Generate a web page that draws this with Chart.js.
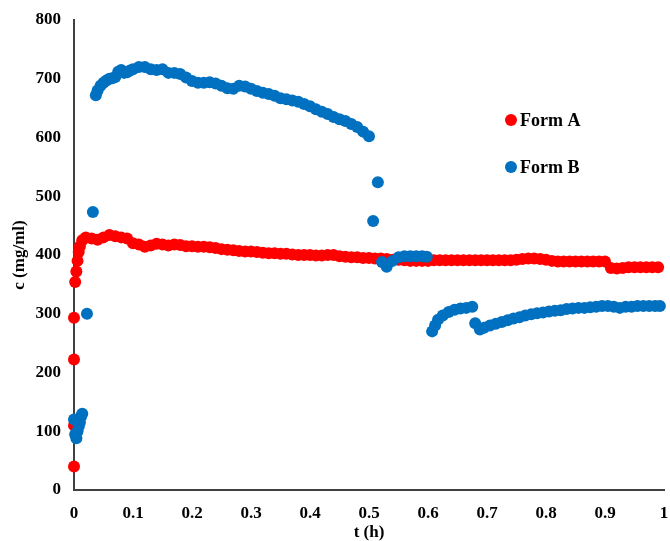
<!DOCTYPE html>
<html lang="en">
<head>
    <meta charset="UTF-8">
    <title>Form A / Form B concentration</title>
    <script src="https://cdn.jsdelivr.net/npm/chart.js"></script>
    <style>
        html, body { margin: 0; padding: 0; background: #fff; }
        #wrap { width: 670px; height: 541px; }
    </style>
</head>
<body>
    <div id="wrap"><canvas id="chart"></canvas></div>
    <script>
    // values
    const timeA = [0, 0, 0, 0, 0.002, 0.004, 0.006, 0.008, 0.01, 0.014, 0.02, 0.03, 0.04, 0.05, 0.06, 0.07, 0.08, 0.09,
        0.10, 0.11, 0.12, 0.13, 0.14, 0.15, 0.16, 0.17, 0.18, 0.19, 0.20, 0.21, 0.22, 0.23, 0.24, 0.25, 0.26, 0.27, 0.28, 0.29,
        0.30, 0.31, 0.32, 0.33, 0.34, 0.35, 0.36, 0.37, 0.38, 0.39, 0.40, 0.41, 0.42, 0.43, 0.44, 0.45, 0.46, 0.47, 0.48, 0.49,
        0.50, 0.51, 0.52, 0.53, 0.54, 0.55, 0.56, 0.57, 0.58, 0.59, 0.60, 0.61, 0.62, 0.63, 0.64, 0.65, 0.66, 0.67, 0.68, 0.69,
        0.70, 0.71, 0.72, 0.73, 0.74, 0.75, 0.76, 0.77, 0.78, 0.79, 0.80, 0.81, 0.82, 0.83, 0.84, 0.85, 0.86, 0.87, 0.88, 0.89,
        0.90, 0.91, 0.92, 0.93, 0.94, 0.95, 0.96, 0.97, 0.98, 0.99];
    const concA = [40, 110, 222, 293, 354, 372, 390, 405, 415, 425, 430, 428, 426, 430, 434, 432, 430, 428,
        420, 418, 414, 416, 419, 418, 416, 418, 417, 415, 415, 414, 414, 413, 412, 410, 409, 408, 407, 406,
        406, 405, 404, 403, 403, 402, 402, 401, 400, 400, 400, 399, 399, 400, 400, 398, 397, 396, 396, 395,
        395, 394, 394, 393, 392, 392, 391, 390, 390, 390, 390, 391, 391, 391, 391, 391, 391, 391, 391, 391,
        391, 391, 391, 391, 391, 392, 393, 394, 394, 393, 392, 390, 389, 389, 389, 389, 389, 389, 389, 389,
        389, 378, 377, 378, 379, 379, 379, 379, 379, 379];

    const timeB = [0, 0.002, 0.004, 0.006, 0.008, 0.01, 0.012, 0.014, 0.022, 0.032, 0.037, 0.04, 0.045, 0.05, 0.055,
        0.06, 0.065, 0.07, 0.075, 0.08, 0.085, 0.09, 0.095, 0.10, 0.11, 0.12, 0.13, 0.14, 0.15, 0.16, 0.17, 0.18, 0.19,
        0.20, 0.21, 0.22, 0.23, 0.24, 0.25, 0.26, 0.27, 0.28, 0.29, 0.30, 0.31, 0.32, 0.33, 0.34, 0.35, 0.36, 0.37, 0.38,
        0.39, 0.40, 0.41, 0.42, 0.43, 0.44, 0.45, 0.46, 0.47, 0.48, 0.49, 0.50, 0.507, 0.515, 0.522, 0.53, 0.54, 0.55,
        0.56, 0.57, 0.58, 0.59, 0.598, 0.607, 0.612, 0.617, 0.625, 0.635, 0.645, 0.655, 0.665, 0.675, 0.68, 0.688, 0.695,
        0.705, 0.715, 0.725, 0.735, 0.745, 0.755, 0.765, 0.775, 0.785, 0.795, 0.805, 0.815, 0.825, 0.835, 0.845, 0.855,
        0.865, 0.875, 0.885, 0.895, 0.905, 0.915, 0.925, 0.935, 0.945, 0.955, 0.965, 0.975, 0.985, 0.993];
    const concB = [120, 95, 88, 100, 108, 115, 125, 130, 300, 473, 672, 680, 688, 693, 697,
        700, 701, 703, 712, 715, 710, 711, 714, 716, 720, 720, 716, 715, 716, 710, 710, 708, 702,
        696, 693, 693, 694, 692, 688, 684, 683, 688, 687, 683, 679, 676, 674, 671, 667, 665, 663, 661,
        657, 653, 648, 644, 640, 635, 631, 628, 623, 618, 610, 602, 458, 524, 388, 380, 390, 396,
        398, 398, 398, 398, 397, 270, 280, 290, 297, 303, 307, 309, 310, 312, 284, 273, 276,
        280, 283, 286, 289, 292, 294, 297, 299, 301, 302, 304, 305, 306, 308, 309, 310,
        310, 311, 312, 313, 313, 312, 310, 312, 312, 313, 313, 313, 313, 313];

    const xTicks = [0, 0.1, 0.2, 0.3, 0.4, 0.5, 0.6, 0.7, 0.8, 0.9, 1];
    const yTicks = [0, 100, 200, 300, 400, 500, 600, 700, 800];

    const serif = '"Liberation Serif", "Times New Roman", serif';

    // legend drawn inside the plot, to the right
    const insideLegend = {
        id: 'insideLegend',
        afterDatasetsDraw(chart) {
            const ctx = chart.ctx;
            const area = chart.chartArea;
            const x = area.left + 437;
            const ys = [area.top + 100, area.top + 147];
            ctx.save();
            ctx.font = 'bold 18px ' + serif;
            ctx.textBaseline = 'middle';
            chart.data.datasets.forEach((ds, i) => {
                ctx.fillStyle = ds.backgroundColor;
                ctx.beginPath();
                ctx.arc(x, ys[i], 6, 0, Math.PI * 2);
                ctx.fill();
                ctx.fillStyle = '#000';
                ctx.fillText(ds.label, x + 9, ys[i] + 1);
            });
            ctx.restore();
        }
    };

    new Chart(document.getElementById('chart'), {
        type: 'scatter',
        data: {
            datasets: [{
                label: 'Form A',
                data: timeA.map((t, i) => ({ x: t, y: concA[i] })),
                backgroundColor: '#FF0000',
                borderColor: '#FF0000',
                pointRadius: 6,
                pointBorderWidth: 0,
                clip: false,
                order: 1
            }, {
                label: 'Form B',
                data: timeB.map((t, i) => ({ x: t, y: concB[i] })),
                backgroundColor: '#0070C0',
                borderColor: '#0070C0',
                pointRadius: 6,
                pointBorderWidth: 0,
                clip: false,
                order: 0
            }]
        },
        options: {
            responsive: true,
            maintainAspectRatio: false,
            animation: false,
            layout: { padding: { top: 20, right: 6, left: 0, bottom: 0 } },
            plugins: {
                legend: { display: false },
                tooltip: { enabled: false }
            },
            scales: {
                x: {
                    type: 'linear',
                    min: 0,
                    max: 1,
                    afterFit: s => { s.height = 51; s.paddingLeft = 0; s.paddingRight = 0; },
                    afterBuildTicks: s => { s.ticks = xTicks.map(v => ({ value: v })); },
                    grid: { display: false, drawTicks: false },
                    border: { display: true, color: '#404040', width: 2 },
                    ticks: {
                        padding: 13,
                        color: '#000',
                        font: { family: serif, size: 17, weight: 'bold' },
                        callback: v => String(+v.toFixed(1))
                    },
                    title: {
                        display: true,
                        text: 't (h)',
                        color: '#000',
                        padding: 0,
                        font: { family: serif, size: 17, weight: 'bold', lineHeight: 1 }
                    }
                },
                y: {
                    min: 0,
                    max: 800,
                    afterFit: s => { s.width = 74; s.paddingTop = 0; s.paddingBottom = 0; },
                    afterBuildTicks: s => { s.ticks = yTicks.map(v => ({ value: v })); },
                    grid: { display: false, drawTicks: false },
                    border: { display: true, color: '#404040', width: 2 },
                    ticks: {
                        padding: 13,
                        color: '#000',
                        font: { family: serif, size: 17, weight: 'bold' }
                    },
                    title: {
                        display: true,
                        text: 'c (mg/ml)',
                        color: '#000',
                        padding: { top: 11, bottom: 0 },
                        font: { family: serif, size: 17, weight: 'bold', lineHeight: 1 }
                    }
                }
            }
        },
        plugins: [insideLegend]
    });
    </script>
</body>
</html>
